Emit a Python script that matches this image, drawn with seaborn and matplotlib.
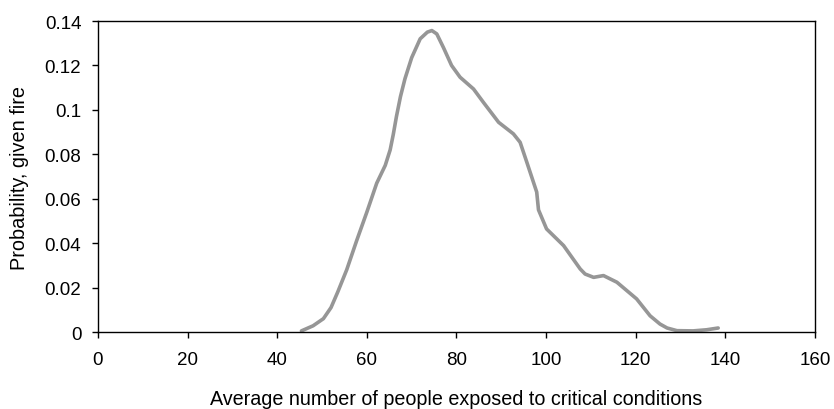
import matplotlib
matplotlib.use("Agg")
import matplotlib.pyplot as plt
import seaborn as sns
import pandas as pd

# leitura aproximada da curva
people = [45.4, 48.0, 50.3, 52.0, 53.5, 55.5, 57.7, 60.0, 62.2, 64.1, 65.2, 65.9,
          66.6, 67.5, 68.5, 70.0, 71.9, 73.5, 74.5, 75.6, 77.1, 78.9, 80.8, 83.8,
          86.0, 89.4, 92.7, 94.2, 95.7, 97.9, 98.3, 100.1, 103.9, 107.6, 108.7,
          110.6, 112.8, 115.8, 120.2, 123.2, 125.4, 127.0, 129.2, 132.8, 135.8, 138.4]
prob = [0.0005, 0.0028, 0.0060, 0.0110, 0.0180, 0.0280, 0.0410, 0.0540, 0.0670,
        0.0750, 0.0820, 0.0890, 0.0970, 0.1060, 0.1140, 0.1235, 0.1320, 0.1350,
        0.1357, 0.1342, 0.1280, 0.1200, 0.1147, 0.1094, 0.1034, 0.0944, 0.0892,
        0.0854, 0.0764, 0.0630, 0.0550, 0.0464, 0.0389, 0.0284, 0.0261, 0.0246,
        0.0254, 0.0224, 0.0149, 0.0073, 0.0036, 0.0018, 0.0006, 0.0005, 0.0010,
        0.0018]

xticks = [0, 20, 40, 60, 80, 100, 120, 140, 160]
yticks = [0, 0.02, 0.04, 0.06, 0.08, 0.1, 0.12, 0.14]
ylabels = ["0", "0.02", "0.04", "0.06", "0.08", "0.1", "0.12", "0.14"]

df = pd.DataFrame({"people": people, "prob": prob})

sns.set_style("ticks")
plt.rcParams["font.family"] = ["Liberation Sans", "DejaVu Sans"]

fig = plt.figure(figsize=(8.34, 4.10), dpi=100)
ax = fig.add_axes([0.1175, 0.1878, 0.8597, 0.7585])

sns.lineplot(data=df, x="people", y="prob", color="#969696", linewidth=2.6, ax=ax)

ax.set_xlim(0, 160)
ax.set_ylim(0, 0.14)
ax.set_xticks(xticks)
ax.set_xticklabels([str(t) for t in xticks])
ax.set_yticks(yticks)
ax.set_yticklabels(ylabels)
ax.tick_params(direction="out", length=4, width=1, colors="black", labelsize=13.5)
ax.tick_params(axis="x", pad=10)
ax.tick_params(axis="y", pad=8)

for s in ax.spines.values():
    s.set_visible(True)
    s.set_color("black")
    s.set_linewidth(1)

ax.set_xlabel("Average number of people exposed to critical conditions", fontsize=14.2, color="black")
ax.xaxis.set_label_coords(0.5, -0.183)
ax.set_ylabel("Probability, given fire", fontsize=14.3, labelpad=11, color="black")

fig.savefig("out.png", dpi=100)
